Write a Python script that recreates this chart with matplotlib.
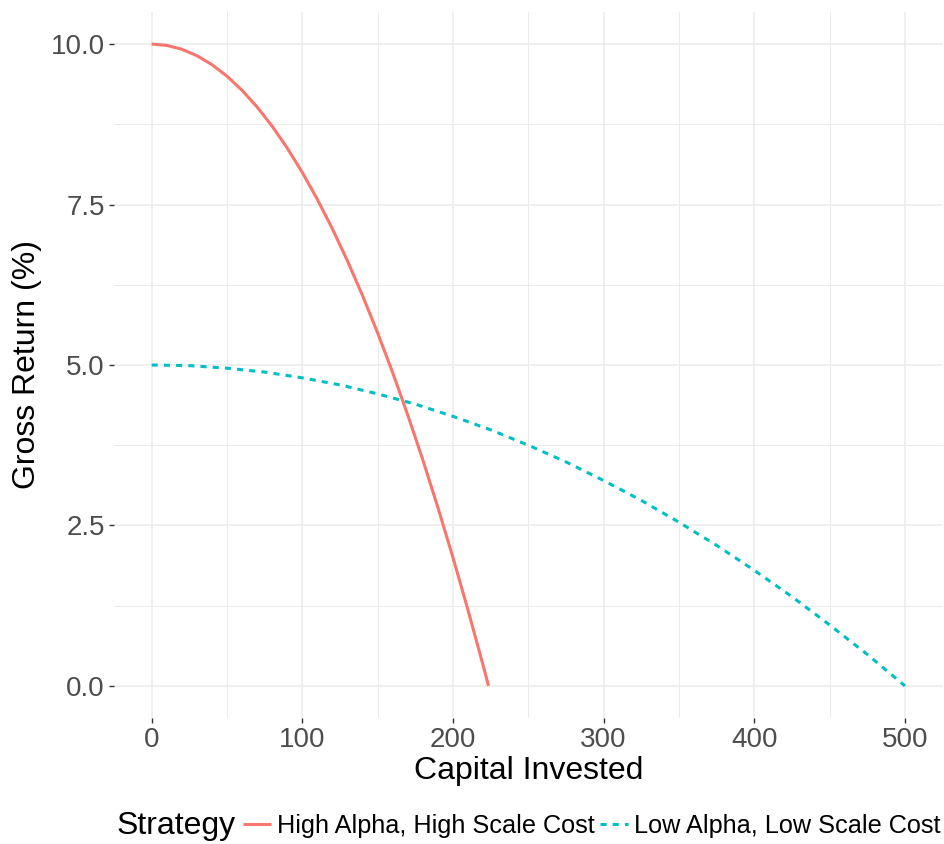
import matplotlib
matplotlib.use("Agg")
import matplotlib.pyplot as plt
from matplotlib.ticker import MultipleLocator

plt.rcParams["font.family"] = ["Liberation Sans", "DejaVu Sans"]

# values
high_x = [0, 10, 20, 30, 40, 50, 60, 70, 80, 90, 100, 110, 120, 130, 140, 150,
          160, 170, 180, 190, 200, 210, 220, 223.6]
high_y = [10.0, 9.98, 9.92, 9.82, 9.68, 9.5, 9.28, 9.02, 8.72, 8.38, 8.0, 7.58,
          7.12, 6.62, 6.08, 5.5, 4.88, 4.22, 3.52, 2.78, 2.0, 1.18, 0.32, 0.0]

low_x = [0, 25, 50, 75, 100, 125, 150, 175, 200, 225, 250, 275, 300, 325, 350,
         375, 400, 425, 450, 475, 500]
low_y = [5.0, 4.99, 4.95, 4.89, 4.8, 4.69, 4.55, 4.39, 4.2, 3.99, 3.75, 3.49,
         3.2, 2.89, 2.55, 2.19, 1.8, 1.39, 0.95, 0.49, 0.0]

labels = ["High Alpha, High Scale Cost", "Low Alpha, Low Scale Cost"]
colors = ["#F8766D", "#00BFC4"]

fig = plt.figure(figsize=(9.45, 8.44), dpi=100)
ax = fig.add_axes([0.1206, 0.1493, 0.8769, 0.8365])

ax.plot(high_x, high_y, color=colors[0], lw=2.2, label=labels[0],
        solid_capstyle="butt")
ax.plot(low_x, low_y, color=colors[1], lw=2.2, label=labels[1],
        dashes=(2, 2), dash_capstyle="butt")

ax.set_xlim(-25, 525)
ax.set_ylim(-0.5, 10.5)
ax.xaxis.set_major_locator(MultipleLocator(100))
ax.xaxis.set_minor_locator(MultipleLocator(50))
ax.yaxis.set_major_locator(MultipleLocator(2.5))
ax.yaxis.set_minor_locator(MultipleLocator(1.25))
ax.set_yticks([0, 2.5, 5, 7.5, 10])
ax.set_yticklabels(["0.0", "2.5", "5.0", "7.5", "10.0"])

ax.grid(which="major", color="#EBEBEB", lw=1.1)
ax.grid(which="minor", color="#EBEBEB", lw=0.7)
ax.set_axisbelow(True)
for s in ax.spines.values():
    s.set_visible(False)

ax.tick_params(which="major", length=3.5, width=1.0, color="#333333",
               labelsize=20, labelcolor="#4D4D4D", pad=3)
ax.tick_params(which="minor", length=0)

ax.set_xlabel("Capital Invested", fontsize=23, labelpad=2)
ax.set_ylabel("Gross Return (%)", fontsize=23, labelpad=6)

fig.text(117 / 945, 1 - 826 / 844, "Strategy", fontsize=23, va="center", ha="left")
leg = fig.legend(loc="center left", bbox_to_anchor=(243 / 945, 1 - 826 / 844),
                 ncol=2, frameon=False, fontsize=18.2, handlelength=1.1,
                 handletextpad=0.25, columnspacing=0.2, borderpad=0, borderaxespad=0)

fig.savefig("out.png", dpi=100)
